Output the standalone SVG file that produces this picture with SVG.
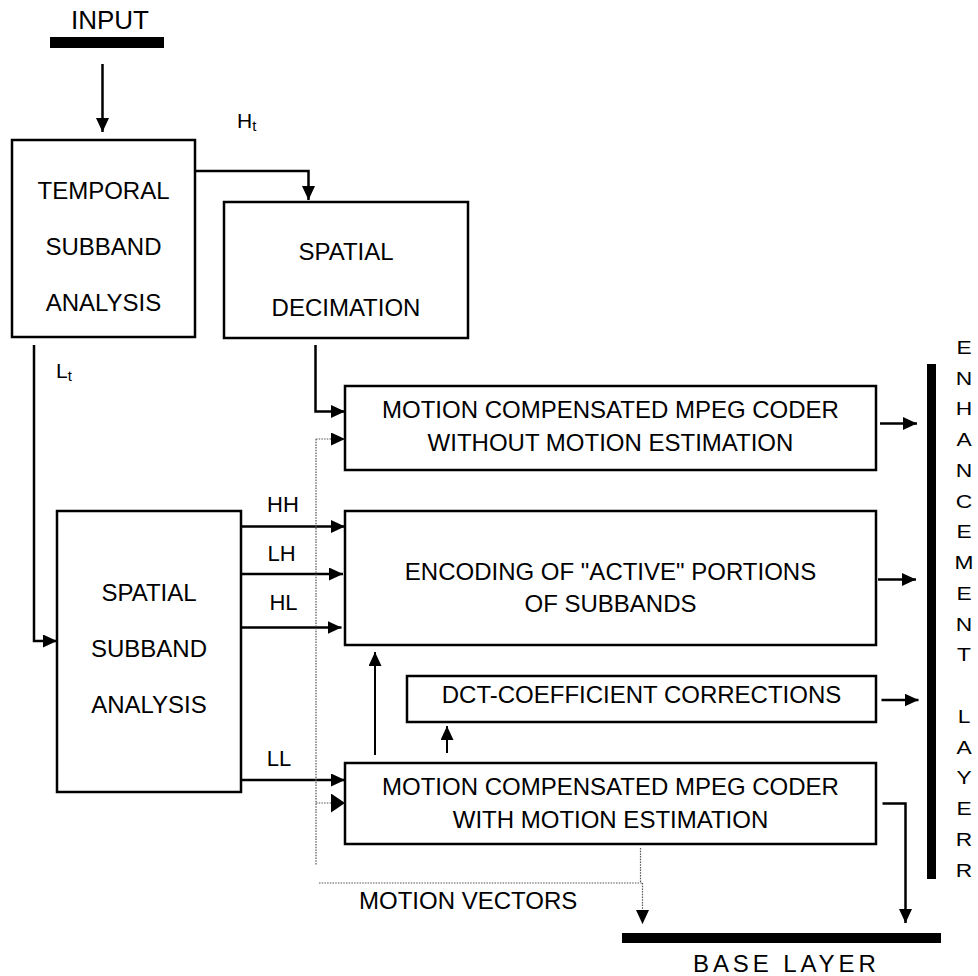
<svg xmlns="http://www.w3.org/2000/svg" width="978" height="976" viewBox="0 0 978 976">
<style>
  text { font-family: "Liberation Sans", Arial, sans-serif; fill: #000; }
  .box { fill: #fff; stroke: #000; stroke-width: 2.5; }
  .t24 { font-size: 24px; text-anchor: middle; }
  .lbl { font-size: 22px; text-anchor: middle; }
  .wire { fill: none; stroke: #000; stroke-width: 2.5; }
  .thin { fill: none; stroke: #000; stroke-width: 2; }
  .dot { fill: none; stroke: #555; stroke-width: 1.2; stroke-dasharray: 1.5 1.2; }
  .bar { fill: #000; }
</style>
<defs>
  <marker id="ah" markerUnits="userSpaceOnUse" viewBox="0 0 14 13" refX="14" refY="6.5" markerWidth="14" markerHeight="13" orient="auto">
    <path d="M0,0 L14,6.5 L0,13 z" fill="#000"/>
  </marker>
  <marker id="ahBig" markerUnits="userSpaceOnUse" viewBox="0 0 14 19" refX="14" refY="9.5" markerWidth="14" markerHeight="19" orient="auto">
    <path d="M0,0 L14,9.5 L0,19 z" fill="#000"/>
  </marker>
</defs>

<g id="input">
  <text x="110" y="29" style="font-size:26px;text-anchor:middle">INPUT</text>
  <rect class="bar" x="50" y="37" width="114" height="11"/>
</g>

<g id="temporal">
  <rect class="box" x="12" y="140" width="183" height="197"/>
  <text class="t24" x="103.5" y="199">TEMPORAL</text>
  <text class="t24" x="103.5" y="255">SUBBAND</text>
  <text class="t24" x="103.5" y="311">ANALYSIS</text>
</g>

<g id="decimation">
  <rect class="box" x="224" y="202" width="244" height="136"/>
  <text class="t24" x="346" y="260">SPATIAL</text>
  <text class="t24" x="346" y="316">DECIMATION</text>
</g>

<g id="spatial-subband">
  <rect class="box" x="57" y="511" width="184" height="281"/>
  <text class="t24" x="149" y="601">SPATIAL</text>
  <text class="t24" x="149" y="657">SUBBAND</text>
  <text class="t24" x="149" y="713">ANALYSIS</text>
</g>

<g id="mc-without">
  <rect class="box" x="345" y="386" width="531" height="84"/>
  <text class="t24" x="610.5" y="418">MOTION COMPENSATED MPEG CODER</text>
  <text class="t24" x="610.5" y="451">WITHOUT MOTION ESTIMATION</text>
</g>

<g id="encoding">
  <rect class="box" x="345" y="511" width="531" height="134"/>
  <text class="t24" x="610.5" y="580">ENCODING OF "ACTIVE" PORTIONS</text>
  <text class="t24" x="610.5" y="612">OF SUBBANDS</text>
</g>

<g id="dct">
  <rect class="box" x="407" y="676" width="469" height="46"/>
  <text class="t24" x="641.5" y="703">DCT-COEFFICIENT CORRECTIONS</text>
</g>

<g id="mc-with">
  <rect class="box" x="345" y="763" width="531" height="81"/>
  <text class="t24" x="610.5" y="795">MOTION COMPENSATED MPEG CODER</text>
  <text class="t24" x="610.5" y="828">WITH MOTION ESTIMATION</text>
</g>

<g id="enhancement-layer">
  <rect class="bar" x="927" y="364" width="9" height="515"/>
  <g transform="translate(964,0) scale(1.2,1)" style="font-size:19px;text-anchor:middle">
    <text x="0" y="354">E</text>
    <text x="0" y="384.75">N</text>
    <text x="0" y="415.5">H</text>
    <text x="0" y="446.25">A</text>
    <text x="0" y="477">N</text>
    <text x="0" y="507.75">C</text>
    <text x="0" y="538.5">E</text>
    <text x="0" y="569.25">M</text>
    <text x="0" y="600">E</text>
    <text x="0" y="630.75">N</text>
    <text x="0" y="661.5">T</text>
    <text x="0" y="723">L</text>
    <text x="0" y="753.75">A</text>
    <text x="0" y="784.5">Y</text>
    <text x="0" y="815.25">E</text>
    <text x="0" y="846">R</text>
    <text x="0" y="876.75">R</text>
  </g>
</g>

<g id="base-layer">
  <rect class="bar" x="622" y="933" width="319" height="10"/>
  <text x="693" y="972" style="font-size:24px;letter-spacing:3.9px">BASE LAYER</text>
</g>

<g id="labels">
  <text x="237" y="128" style="font-size:21px">H<tspan dy="3" style="font-size:15px">t</tspan></text>
  <text x="56" y="378" style="font-size:21px">L<tspan dy="3" style="font-size:15px">t</tspan></text>
  <text class="lbl" x="283" y="512">HH</text>
  <text class="lbl" x="281.5" y="561">LH</text>
  <text class="lbl" x="283.5" y="610">HL</text>
  <text class="lbl" x="279" y="766">LL</text>
  <text x="359" y="909" style="font-size:24px">MOTION VECTORS</text>
</g>

<g id="connectors">
  <line class="wire" x1="102.5" y1="64" x2="102.5" y2="132" marker-end="url(#ah)"/>
  <polyline class="wire" points="195,171 308.5,171 308.5,200" marker-end="url(#ah)"/>
  <polyline class="wire" points="315.5,345 315.5,411.5 345,411.5" marker-end="url(#ah)"/>
  <polyline class="wire" points="34,345 34,641 57,641" marker-end="url(#ah)"/>
  <line class="wire" x1="241" y1="526.5" x2="345" y2="526.5" marker-end="url(#ah)"/>
  <line class="wire" x1="241" y1="574" x2="343" y2="574" marker-end="url(#ah)"/>
  <line class="wire" x1="241" y1="627.5" x2="341.5" y2="627.5" marker-end="url(#ah)"/>
  <line class="wire" x1="241" y1="780" x2="345" y2="780" marker-end="url(#ah)"/>
  <line class="thin" x1="375" y1="755" x2="375" y2="652" marker-end="url(#ah)"/>
  <line class="thin" x1="447" y1="753" x2="447" y2="726" marker-end="url(#ah)"/>
  <line class="wire" x1="880" y1="423.5" x2="917" y2="423.5" marker-end="url(#ah)"/>
  <line class="wire" x1="878" y1="579.5" x2="916" y2="579.5" marker-end="url(#ah)"/>
  <line class="wire" x1="881.5" y1="700" x2="918.5" y2="700" marker-end="url(#ah)"/>
  <polyline class="wire" points="882.5,803.5 905.5,803.5 905.5,923" marker-end="url(#ah)"/>
  <line class="dot" x1="316" y1="439" x2="316" y2="865"/>
  <line class="dot" x1="316" y1="439" x2="345" y2="439" marker-end="url(#ah)"/>
  <line class="dot" x1="316" y1="803" x2="345" y2="803" marker-end="url(#ahBig)"/>
  <line class="dot" x1="640.5" y1="848" x2="640.5" y2="883"/>
  <line class="dot" x1="319" y1="883" x2="642.5" y2="883"/>
  <line class="dot" x1="642.5" y1="883" x2="642.5" y2="924" marker-end="url(#ah)"/>
</g>
</svg>
